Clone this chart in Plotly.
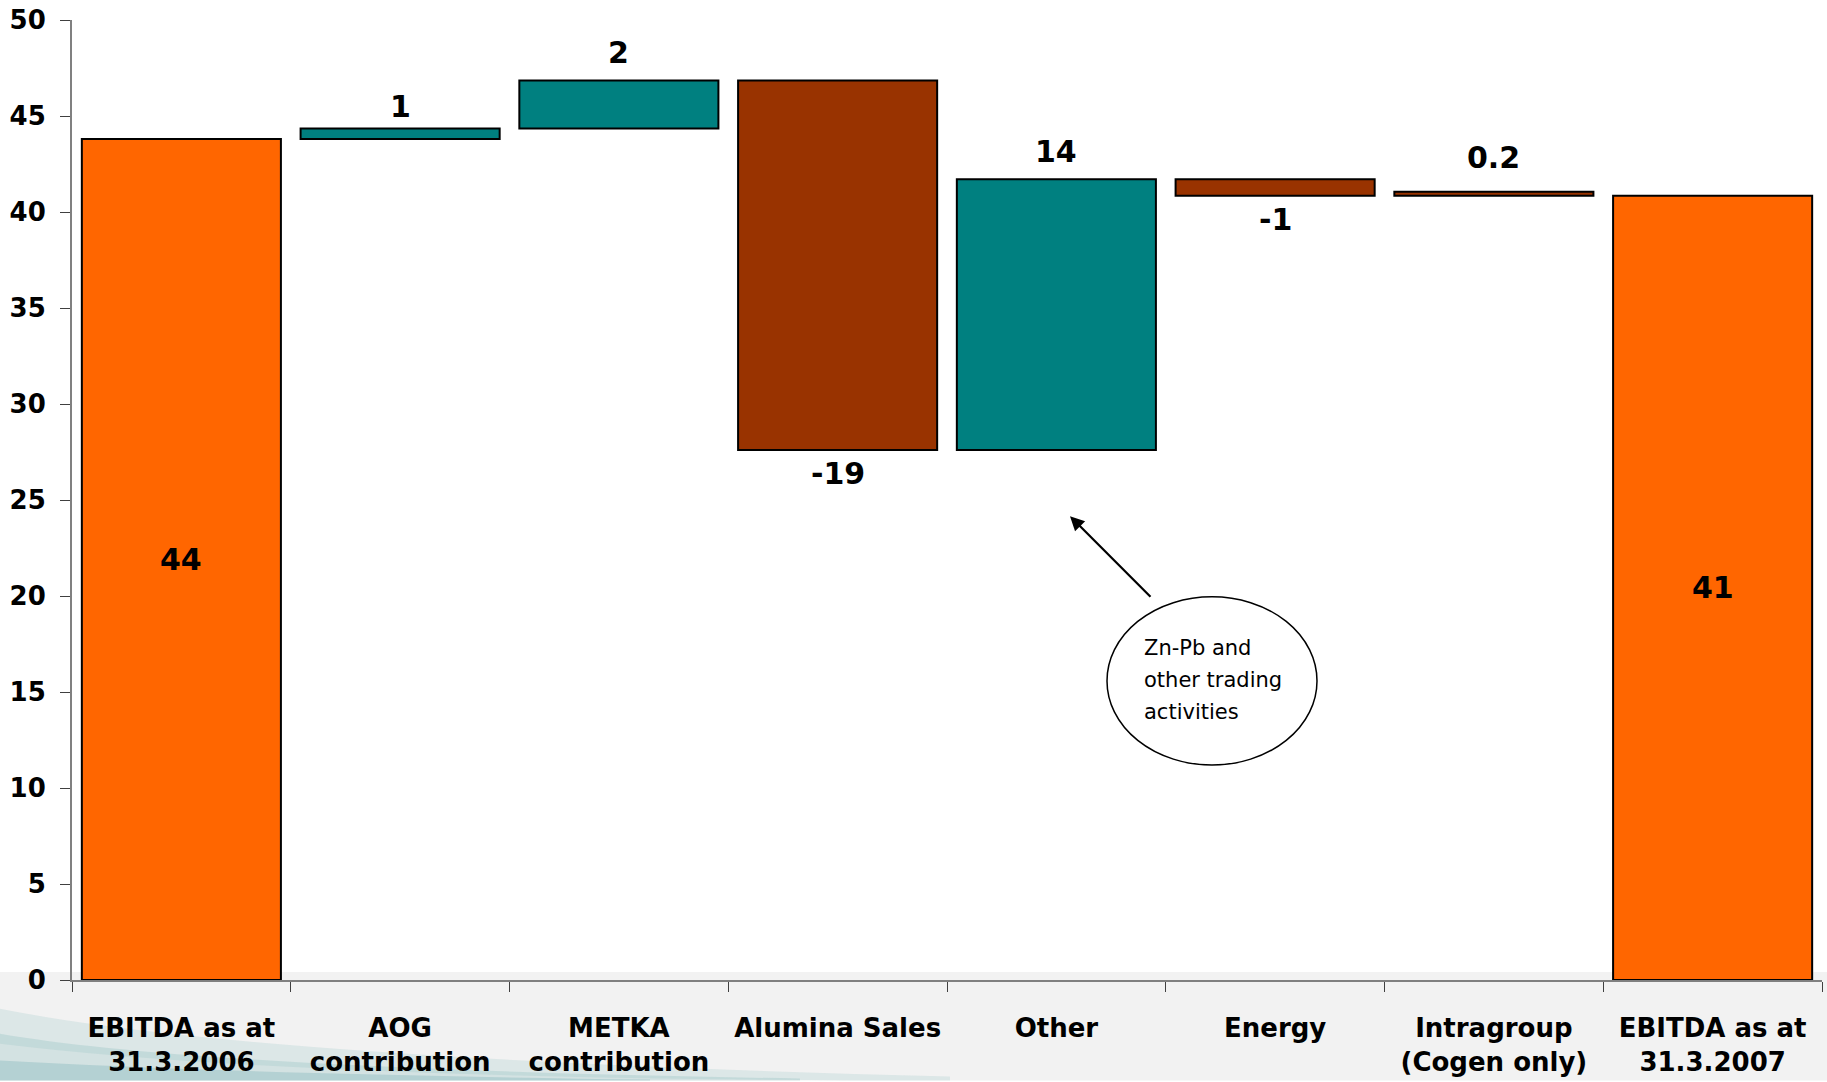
import plotly.graph_objects as go

# ---- data ----
categories = [
    "EBITDA as at<br>31.3.2006",
    "AOG<br>contribution",
    "METKA<br>contribution",
    "Alumina Sales",
    "Other",
    "Energy",
    "Intragroup<br>(Cogen only)",
    "EBITDA as at<br>31.3.2007",
]
start_total = 43.8
deltas = [0.55, 2.5, -19.25, 14.1, -0.85, 0.2]
end_total = 40.85
value_labels = ["44", "1", "2", "-19", "14", "-1", "0.2", "41"]
kinds = ["total", "up", "up", "down", "up", "down", "down", "total"]
y_ticks = [0, 5, 10, 15, 20, 25, 30, 35, 40, 45, 50]

# label placement (style, not data)
label_pos = ["mid", "above", "above", "below", "above", "below", "above", "mid"]
label_shift = [0, 2, 8, -4, 8, -4, 15, 0]

COLORS = {"total": "#FF6600", "up": "#008080", "down": "#993300"}

# ---- derive bar bases / tops ----
bases, tops = [0.0], [start_total]
level = start_total
for d in deltas[:-1]:
    new = level + d
    bases.append(min(level, new))
    tops.append(max(level, new))
    level = new
# intragroup: small step drawn on top of current level
d = deltas[-1]
bases.append(level)
tops.append(level + abs(d))
bases.append(0.0)
tops.append(end_total)

heights = [t - b for t, b in zip(tops, bases)]
colors = [COLORS[k] for k in kinds]

FONT = "DejaVu Sans"

fig = go.Figure()
fig.add_trace(go.Bar(
    x=categories,
    y=heights,
    base=bases,
    width=0.91,
    marker=dict(color=colors, line=dict(color="#000000", width=2)),
    hoverinfo="skip",
    showlegend=False,
))

# data labels
annotations = []
for i, lab in enumerate(value_labels):
    pos = label_pos[i]
    if pos == "mid":
        a = dict(x=categories[i], y=(bases[i] + tops[i]) / 2, yanchor="middle")
    elif pos == "above":
        a = dict(x=categories[i], y=tops[i], yanchor="bottom", yshift=label_shift[i])
    else:
        a = dict(x=categories[i], y=bases[i], yanchor="top", yshift=label_shift[i])
    a.update(text=lab, showarrow=False,
             font=dict(family=FONT, size=30, color="#000000", weight="bold"))
    annotations.append(a)

# pixel -> paper helpers for decoration (plot area: x 72..1822, y 16.5..981)
L, R, T, B = 72, 1822, 16.5, 981
def px(x):
    return (x - L) / (R - L)
def py(y):
    return (B - y) / (B - T)

# arrow pointing at the "Other" bar
annotations.append(dict(
    x=px(1070), y=py(515), xref="paper", yref="paper",
    ax=82, ay=82, axref="pixel", ayref="pixel",
    showarrow=True, arrowhead=2, arrowsize=1.3, arrowwidth=2.2, arrowcolor="#000000",
    text="",
))
# ellipse text
for txt, yy in [("Zn-Pb and", 647), ("other trading", 680), ("activities", 712)]:
    annotations.append(dict(
        x=px(1142), y=py(yy), xref="paper", yref="paper", text=txt,
        showarrow=False, xanchor="left", yanchor="middle",
        font=dict(family=FONT, size=21, color="#000000"),
    ))

shapes = [
    # grey footer band
    dict(type="rect", xref="paper", yref="paper", layer="below",
         x0=px(0), x1=px(1827), y0=py(973), y1=py(1082),
         fillcolor="#F2F2F2", line=dict(width=0)),
    # ellipse callout
    dict(type="circle", xref="paper", yref="paper",
         x0=px(1107), x1=px(1317), y0=py(765), y1=py(596),
         fillcolor="rgba(255,255,255,1)", line=dict(color="#000000", width=1.5)),
]

# decorative swoosh in the footer (smooth curves)
def swoosh(top, bot, color):
    # top/bot: (x0,y0), (cx,cy), (x1,y1) quadratic curves
    (a0, a1, a2), (b0, b1, b2) = top, bot
    f = lambda p: f"{px(p[0]):.5f},{py(p[1]):.5f}"
    path = (f"M {f(a0)} Q {f(a1)} {f(a2)} L {f(b2)} Q {f(b1)} {f(b0)} Z")
    return dict(type="path", xref="paper", yref="paper", layer="below", path=path,
                fillcolor=color, line=dict(width=0))

shapes.append(swoosh(
    [(0, 1010), (250, 1060), (950, 1078)],
    [(0, 1045), (300, 1082), (950, 1082)],
    "rgba(170,205,205,0.30)"))
shapes.append(swoosh(
    [(0, 1035), (200, 1070), (800, 1080)],
    [(0, 1082), (200, 1082), (800, 1082)],
    "rgba(140,190,190,0.30)"))
shapes.append(swoosh(
    [(0, 1062), (250, 1076), (650, 1081)],
    [(0, 1082), (250, 1082), (650, 1082)],
    "rgba(110,170,175,0.30)"))

fig.update_layout(
    width=1827, height=1082,
    margin=dict(l=L, r=1827 - R, t=T, b=1082 - B, pad=0),
    paper_bgcolor="#FFFFFF",
    plot_bgcolor="rgba(0,0,0,0)",
    bargap=0.09,
    annotations=annotations,
    shapes=shapes,
    font=dict(family=FONT, color="#000000"),
    xaxis=dict(
        type="category",
        showline=True, linecolor="#808080", linewidth=2,
        ticks="outside", ticklen=10, tickcolor="#404040", tickwidth=1,
        tickson="boundaries",
        showgrid=False, zeroline=False,
        tickfont=dict(family=FONT, size=26, color="#000000", weight="bold"),
        ticklabelstandoff=24,
        fixedrange=True,
    ),
    yaxis=dict(
        range=[0, 50],
        tickvals=y_ticks,
        showline=True, linecolor="#808080", linewidth=2,
        ticks="outside", ticklen=10, tickcolor="#404040", tickwidth=1,
        showgrid=False, zeroline=False,
        tickfont=dict(family=FONT, size=26, color="#000000", weight="bold"),
        ticklabelstandoff=9,
        fixedrange=True,
    ),
)

fig.write_html("out.html")
